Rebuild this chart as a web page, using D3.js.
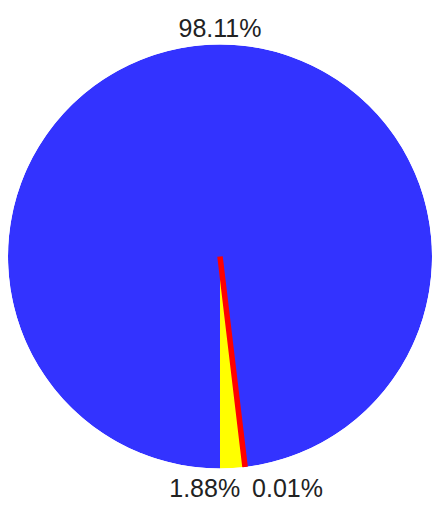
<!DOCTYPE html>
<html>
<head>
<meta charset="utf-8">
<script src="https://cdn.jsdelivr.net/npm/d3@7/dist/d3.min.js"></script>
<style>
  html, body { margin: 0; padding: 0; background: #ffffff; }
  svg { display: block; }
  text { font-family: "Liberation Sans", Arial, sans-serif; }
</style>
</head>
<body>
<div id="chart"></div>
<script>
// Share of each category, in percent
const categories = ["A", "B", "C"];
const values = [98.11, 0.01, 1.88];
const labels = ["98.11%", "0.01%", "1.88%"];
const colors = ["#3333ff", "#ff0000", "#ffff00"];

const width = 441, height = 508;
const radius = 212;
const cx = 220, cy = 256.5;
const fontSize = 25;

const svg = d3.select("#chart").append("svg")
  .attr("width", width)
  .attr("height", height);

// Keep slice outlines inside the disc
svg.append("defs").append("clipPath")
  .attr("id", "disc")
  .append("circle")
  .attr("cx", 0).attr("cy", 0).attr("r", radius);

const g = svg.append("g").attr("transform", `translate(${cx},${cy})`);

const data = categories.map((c, i) => ({ cat: c, value: values[i], label: labels[i], color: colors[i] }));

// Slices run clockwise starting from the bottom of the circle
const pie = d3.pie()
  .value(d => d.value)
  .sort(null)
  .startAngle(Math.PI)
  .endAngle(3 * Math.PI);

const arc = d3.arc().innerRadius(0).outerRadius(radius);
const arcs = pie(data);

// Tiny slices get an outline of their own colour so they stay visible;
// they are drawn last so the outline sits on top of the neighbours.
const isTiny = d => d.data.value < 0.5;
const drawOrder = arcs.filter(d => !isTiny(d)).concat(arcs.filter(isTiny));

g.append("g")
  .attr("clip-path", "url(#disc)")
  .selectAll("path.slice")
  .data(drawOrder)
  .join("path")
  .attr("class", "slice")
  .attr("d", arc)
  .attr("fill", d => d.data.color)
  .attr("stroke", d => isTiny(d) ? d.data.color : "none")
  .attr("stroke-width", d => isTiny(d) ? 5.5 : 0)
  .attr("stroke-linejoin", "bevel");

// Label placement: just outside the rim, on the slice's mid angle
const labelR = radius + 9;
const placed = arcs.map(d => {
  let a = (d.startAngle + d.endAngle) / 2;
  // a dominant slice that covers the top gets its label at the top
  const spansTop = d.startAngle <= 2 * Math.PI && d.endAngle >= 2 * Math.PI;
  if (d.data.value > 50 && spansTop) a = 2 * Math.PI;
  const x = Math.sin(a) * labelR;
  const yRaw = -Math.cos(a) * labelR;
  const top = yRaw < 0;
  const y = top ? -(radius + 8) : (radius + 10 + fontSize * 0.72);
  return { d, x, y, anchor: "middle", top };
});

// Crowded labels under the pie are split to either side of the outer one
const bottom = placed.filter(p => !p.top).sort((p, q) => p.x - q.x);
for (let i = 0; i + 1 < bottom.length; i++) {
  const l = bottom[i], r = bottom[i + 1];
  if (r.x - l.x < 60) {
    const pivot = r.x;
    l.anchor = "end"; l.x = pivot - 6;
    r.anchor = "start"; r.x = pivot + 6;
  }
}

g.selectAll("text.lbl")
  .data(placed)
  .join("text")
  .attr("class", "lbl")
  .attr("x", p => p.x)
  .attr("y", p => p.y)
  .attr("text-anchor", p => p.anchor)
  .attr("font-size", fontSize)
  .attr("fill", "#222222")
  .text(p => p.d.data.label);
</script>
</body>
</html>
